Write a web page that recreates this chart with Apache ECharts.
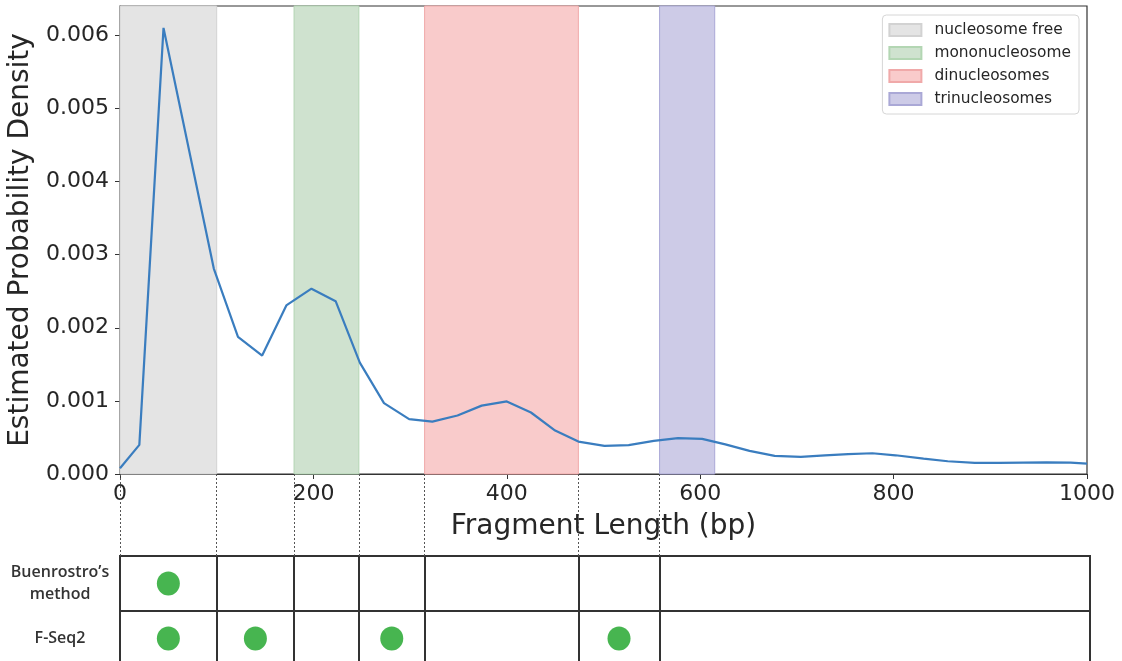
<!DOCTYPE html>
<html>
<head>
<meta charset="utf-8">
<script src="https://cdn.jsdelivr.net/npm/echarts@6/dist/echarts.min.js"></script>
<style>
  html, body { margin: 0; padding: 0; background: #fff; }
  #chart { width: 1122px; height: 661px; }
</style>
</head>
<body>
<div id="chart"></div>
<script>
// fragment length (bp) and estimated density
var lengthBp = [0, 20, 45, 97, 122, 147, 172, 198, 223, 248, 273, 299, 323, 349, 374, 400, 425, 450, 474,
    501, 526, 552, 577, 602, 626, 651, 677, 704, 729, 753, 778, 802, 831, 856, 884, 909, 934, 958, 983, 1000];
var density = [0.000078, 0.000398, 0.00610, 0.00281, 0.001875, 0.00162, 0.002305, 0.002534, 0.002363, 0.001523,
    0.00097, 0.00075, 0.000717, 0.0008, 0.000935, 0.000992, 0.000841, 0.000594, 0.000443,
    0.000384, 0.000394, 0.000453, 0.00049, 0.00048, 0.000405, 0.000316, 0.000247, 0.000233, 0.000256,
    0.000272, 0.000284, 0.000256, 0.00021, 0.000174, 0.000151, 0.000151, 0.000155, 0.000158, 0.000156, 0.000141];

// shaded ranges
var bandNames = ['nucleosome free', 'mononucleosome', 'dinucleosomes', 'trinucleosomes'];
var bandRanges = [[0, 100], [180, 247], [315, 474], [558, 615]];
var bandFill = ['#e4e4e4', '#cfe2cf', '#f9cbcb', '#cdcbe7'];
var bandEdge = ['#d2d2d2', '#b3d6b3', '#f0a9a9', '#aaa8d6'];

var xTicks = [0, 200, 400, 600, 800, 1000];
var yTicks = [0, 0.001, 0.002, 0.003, 0.004, 0.005, 0.006];

// table below the plot
var tableEdges = [0, 100, 180, 247, 315, 474, 558, 1003];
var rowNames = ['Buenrostro’s method', 'F-Seq2'];
var buenrostroCells = [0];
var fseq2Cells = [0, 1, 3, 5];

var txt = '#262626';
var myChart = echarts.init(document.getElementById('chart'));

function cellCenter(i) {
    return (tableEdges[i] + tableEdges[i + 1]) / 2;
}
var dots = [];
buenrostroCells.forEach(function (c) { dots.push([cellCenter(c), rowNames[0]]); });
fseq2Cells.forEach(function (c) { dots.push([cellCenter(c), rowNames[1]]); });

var series = [];
for (var i = 0; i < bandNames.length; i++) {
    series.push({
        name: bandNames[i],
        type: 'line',
        xAxisIndex: 0,
        yAxisIndex: 0,
        data: [],
        color: bandFill[i],
        itemStyle: {color: bandFill[i], borderColor: bandEdge[i], borderWidth: 1},
        lineStyle: {color: bandFill[i]},
        silent: true,
        markArea: {
            silent: true,
            itemStyle: {color: bandFill[i], borderColor: bandEdge[i], borderWidth: 1},
            data: [[{xAxis: bandRanges[i][0]}, {xAxis: bandRanges[i][1]}]]
        }
    });
}
series.push({
    name: 'density',
    type: 'line',
    xAxisIndex: 0,
    yAxisIndex: 0,
    data: lengthBp.map(function (x, k) { return [x, density[k]]; }),
    symbol: 'none',
    lineStyle: {color: '#3a7dbf', width: 2.2},
    z: 5
});
// dotted connectors
series.push({
    type: 'line',
    xAxisIndex: 1,
    yAxisIndex: 1,
    data: [],
    markLine: {
        silent: true,
        symbol: 'none',
        label: {show: false},
        lineStyle: {color: '#555', type: [2, 2], width: 1},
        data: tableEdges.slice(0, -1).map(function (v) { return {xAxis: v}; })
    }
});
// table
series.push({
    type: 'scatter',
    xAxisIndex: 2,
    yAxisIndex: 2,
    data: dots,
    symbolSize: [23, 24],
    itemStyle: {color: '#47b550', opacity: 1},
    markLine: {
        silent: true,
        symbol: 'none',
        label: {show: false},
        lineStyle: {color: '#333', type: 'solid', width: 2},
        data: tableEdges.slice(1, -1).map(function (v) { return {xAxis: v}; })
    }
});

option = {
    animation: false,
    backgroundColor: '#fff',
    textStyle: {fontFamily: 'DejaVu Sans'},
    legend: {
        data: bandNames,
        orient: 'vertical',
        right: 43,
        top: 15,
        icon: 'rect',
        itemWidth: 32,
        itemHeight: 12,
        itemGap: 5,
        padding: [6, 8, 6, 6],
        backgroundColor: 'rgba(255,255,255,0.85)',
        borderColor: '#d6d6d6',
        borderWidth: 1,
        borderRadius: 4,
        selectedMode: false,
        textStyle: {color: txt, fontSize: 15.4, lineHeight: 18, padding: [0, 0, 0, 8], fontFamily: 'DejaVu Sans'}
    },
    grid: [
        {left: 120, right: 35, top: 6, bottom: 187, outerBoundsMode: 'none',
            show: true, backgroundColor: '#fff', borderColor: '#333', borderWidth: 1.2},
        {left: 120, right: 35, top: 474, bottom: 105, outerBoundsMode: 'none'},
        {left: 120, right: 32, top: 556, height: 110, outerBoundsMode: 'none',
            show: true, borderColor: '#333', borderWidth: 2}
    ],
    xAxis: [
        {
            gridIndex: 0, type: 'value', min: 0, max: 1000, interval: 200,
            name: 'Fragment Length (bp)', nameLocation: 'middle', nameGap: 39,
            nameTextStyle: {fontSize: 28, color: txt},
            axisLine: {lineStyle: {color: '#333', width: 1.2}},
            axisTick: {length: 5, lineStyle: {color: '#333'}, customValues: xTicks},
            axisLabel: {fontSize: 22, color: txt, margin: 9, customValues: xTicks,
                formatter: function (v) { return String(v); }},
            splitLine: {show: false}
        },
        {gridIndex: 1, type: 'value', min: 0, max: 1000, show: false},
        {gridIndex: 2, type: 'value', min: 0, max: 1003, show: false}
    ],
    yAxis: [
        {
            gridIndex: 0, type: 'value', min: 0, max: 0.0064,
            name: 'Estimated Probability Density', nameLocation: 'middle', nameGap: 77,
            nameTextStyle: {fontSize: 28, color: txt},
            axisLine: {show: true, lineStyle: {color: '#333', width: 1.2}},
            axisTick: {show: true, length: 5, lineStyle: {color: '#333'}, customValues: yTicks},
            axisLabel: {fontSize: 22, color: txt, margin: 11, customValues: yTicks,
                formatter: function (v) { return v.toFixed(3); }},
            splitLine: {show: false}
        },
        {gridIndex: 1, type: 'value', min: 0, max: 1, show: false},
        {
            gridIndex: 2, type: 'category', data: rowNames, inverse: true,
            axisLine: {show: false},
            axisTick: {show: false},
            splitLine: {show: true, lineStyle: {color: '#333', width: 2}},
            axisLabel: {
                align: 'center', margin: 60, padding: [4, 0, 0, 0],
                fontFamily: 'Open Sans', fontWeight: 600, fontSize: 16, lineHeight: 22, color: '#333',
                formatter: function (v) { return v.replace(' ', '\n'); }
            }
        }
    ],
    series: series
};

myChart.setOption(option);
</script>
</body>
</html>
